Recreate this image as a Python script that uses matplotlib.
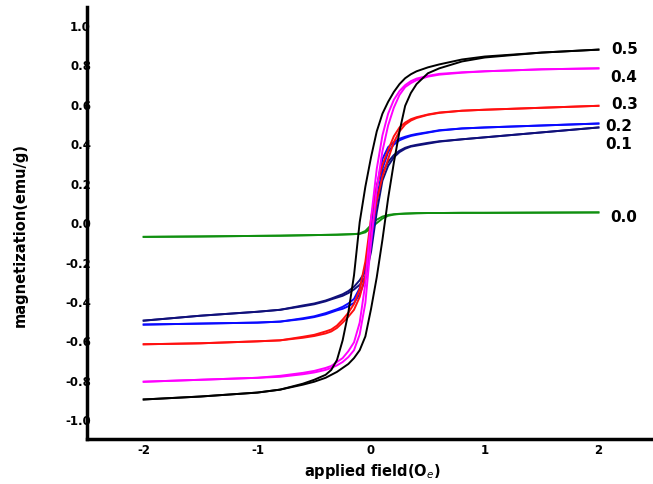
import matplotlib
matplotlib.use('Agg')
import matplotlib.pyplot as plt

#------------------------data----------------------
# applied field grid shared by every branch
field = [-2.0, -1.5, -1.0, -0.8, -0.6, -0.5, -0.4, -0.35, -0.3, -0.25,
         -0.2, -0.15, -0.1, -0.05, 0.0, 0.05, 0.1, 0.15, 0.2, 0.25,
         0.3, 0.35, 0.4, 0.5, 0.6, 0.8, 1.0, 1.5, 2.0]

# descending (down) and ascending (up) branch of each loop, emu/g
m05_down = [-0.90, -0.885, -0.865, -0.85, -0.82, -0.80, -0.775, -0.75, -0.70, -0.60,
            -0.46, -0.27, 0.0, 0.18, 0.33, 0.46, 0.55, 0.61, 0.66, 0.70,
            0.73, 0.75, 0.765, 0.785, 0.80, 0.825, 0.84, 0.86, 0.875]
m05_up = [-0.90, -0.885, -0.865, -0.85, -0.825, -0.81, -0.79, -0.775, -0.76, -0.74,
          -0.72, -0.69, -0.65, -0.58, -0.44, -0.28, -0.09, 0.12, 0.30, 0.46,
          0.59, 0.655, 0.70, 0.755, 0.78, 0.815, 0.835, 0.86, 0.875]

m04_down = [-0.81, -0.80, -0.79, -0.78, -0.765, -0.755, -0.74, -0.73, -0.71, -0.69,
            -0.655, -0.61, -0.51, -0.31, 0.02, 0.27, 0.44, 0.55, 0.62, 0.665,
            0.695, 0.715, 0.728, 0.742, 0.752, 0.76, 0.765, 0.775, 0.78]
m04_up = [-0.81, -0.80, -0.79, -0.785, -0.772, -0.763, -0.75, -0.74, -0.727, -0.71,
          -0.685, -0.65, -0.57, -0.41, -0.10, 0.17, 0.36, 0.49, 0.58, 0.645,
          0.685, 0.705, 0.72, 0.738, 0.748, 0.758, 0.765, 0.775, 0.78]

m03_down = [-0.62, -0.615, -0.605, -0.60, -0.582, -0.572, -0.555, -0.545, -0.525, -0.495,
            -0.46, -0.415, -0.34, -0.20, 0.02, 0.18, 0.29, 0.365, 0.435, 0.48,
            0.505, 0.522, 0.532, 0.546, 0.556, 0.565, 0.57, 0.58, 0.59]
m03_up = [-0.62, -0.615, -0.605, -0.60, -0.587, -0.578, -0.565, -0.555, -0.537, -0.51,
          -0.48, -0.445, -0.38, -0.27, -0.07, 0.11, 0.23, 0.32, 0.405, 0.46,
          0.495, 0.515, 0.528, 0.544, 0.554, 0.565, 0.57, 0.58, 0.59]

m02_down = [-0.52, -0.515, -0.51, -0.505, -0.488, -0.478, -0.462, -0.452, -0.442, -0.43,
            -0.413, -0.39, -0.335, -0.23, -0.01, 0.18, 0.32, 0.38, 0.405, 0.423,
            0.433, 0.441, 0.447, 0.456, 0.466, 0.475, 0.48, 0.49, 0.50]
m02_up = [-0.52, -0.515, -0.51, -0.505, -0.492, -0.482, -0.468, -0.458, -0.448, -0.44,
          -0.427, -0.41, -0.365, -0.29, -0.11, 0.10, 0.27, 0.355, 0.393, 0.415,
          0.427, 0.437, 0.443, 0.454, 0.464, 0.475, 0.48, 0.49, 0.50]

m01_down = [-0.50, -0.475, -0.455, -0.445, -0.423, -0.413, -0.398, -0.388, -0.377, -0.366,
            -0.35, -0.328, -0.295, -0.25, -0.07, 0.12, 0.25, 0.305, 0.34, 0.362,
            0.377, 0.386, 0.392, 0.402, 0.41, 0.42, 0.43, 0.455, 0.48]
m01_up = [-0.50, -0.475, -0.455, -0.445, -0.427, -0.417, -0.402, -0.392, -0.383, -0.374,
          -0.36, -0.342, -0.318, -0.28, -0.15, 0.05, 0.21, 0.285, 0.328, 0.355,
          0.372, 0.383, 0.388, 0.398, 0.408, 0.42, 0.43, 0.455, 0.48]

m00_down = [-0.075, -0.073, -0.07, -0.069, -0.067, -0.066, -0.065, -0.0645, -0.064, -0.063,
            -0.062, -0.061, -0.058, -0.045, -0.015, 0.012, 0.028, 0.036, 0.040, 0.042,
            0.043, 0.044, 0.045, 0.046, 0.046, 0.047, 0.047, 0.048, 0.049]
m00_up = [-0.075, -0.073, -0.07, -0.069, -0.067, -0.066, -0.065, -0.0645, -0.064, -0.063,
          -0.062, -0.061, -0.06, -0.052, -0.03, -0.005, 0.018, 0.032, 0.038, 0.041,
          0.043, 0.044, 0.045, 0.046, 0.046, 0.047, 0.047, 0.048, 0.049]

labels = ['0.5', '0.4', '0.3', '0.2', '0.1', '0.0']
xticks = [-2, -1, 0, 1, 2]
yticks = [-1.0, -0.8, -0.6, -0.4, -0.2, 0.0, 0.2, 0.4, 0.6, 0.8, 1.0]

#------------------------plot----------------------
plt.rcParams['font.family'] = ['DejaVu Sans']
plt.rcParams['axes.unicode_minus'] = False

fig = plt.figure(figsize=(6.53, 4.85), dpi=100)
ax = fig.add_axes([0.133, 0.093, 0.867, 0.890])

loops = [(m00_down, m00_up, '#109010'),
         (m01_down, m01_up, '#10107a'),
         (m02_down, m02_up, '#0a0aff'),
         (m03_down, m03_up, '#ff1010'),
         (m04_down, m04_up, '#ff00ff'),
         (m05_down, m05_up, 'black')]
for down, up, col in loops:
    ax.plot(field, down, color=col, linewidth=1.4)
    ax.plot(field, up, color=col, linewidth=1.4)

# labels at the right end of each loop (x, y in data units)
label_pos = [(2.11, 0.88), (2.10, 0.74), (2.11, 0.60), (2.06, 0.49), (2.06, 0.40), (2.10, 0.03)]
for lab, (lx, ly) in zip(labels, label_pos):
    ax.text(lx, ly, lab, fontsize=11, fontweight='bold', va='center', ha='left')

ax.set_xlim(-2.5, 2.48)
ax.set_ylim(-1.1, 1.09)
ax.set_xticks(xticks)
ax.set_xticklabels([str(t) for t in xticks])
ax.set_yticks(yticks)
ax.set_yticklabels(['%.1f' % t for t in yticks])
ax.tick_params(axis='both', length=0, labelsize=8.5)
ax.tick_params(axis='y', pad=-3)
ax.tick_params(axis='x', pad=3)
for t in ax.get_xticklabels() + ax.get_yticklabels():
    t.set_fontweight('bold')

ax.spines['top'].set_visible(False)
ax.spines['right'].set_visible(False)
ax.spines['left'].set_linewidth(2.5)
ax.spines['bottom'].set_linewidth(2.5)
ax.spines['left'].set_zorder(3)
ax.spines['bottom'].set_zorder(3)

ax.set_xlabel('applied field(O$_e$)', fontsize=10.5, fontweight='bold')
ax.set_ylabel('magnetization(emu/g)', fontsize=10.5, fontweight='bold')
ax.xaxis.set_label_coords(0.504, -0.052)
ax.yaxis.set_label_coords(-0.104, 0.475)

plt.savefig('out.png', dpi=100)
